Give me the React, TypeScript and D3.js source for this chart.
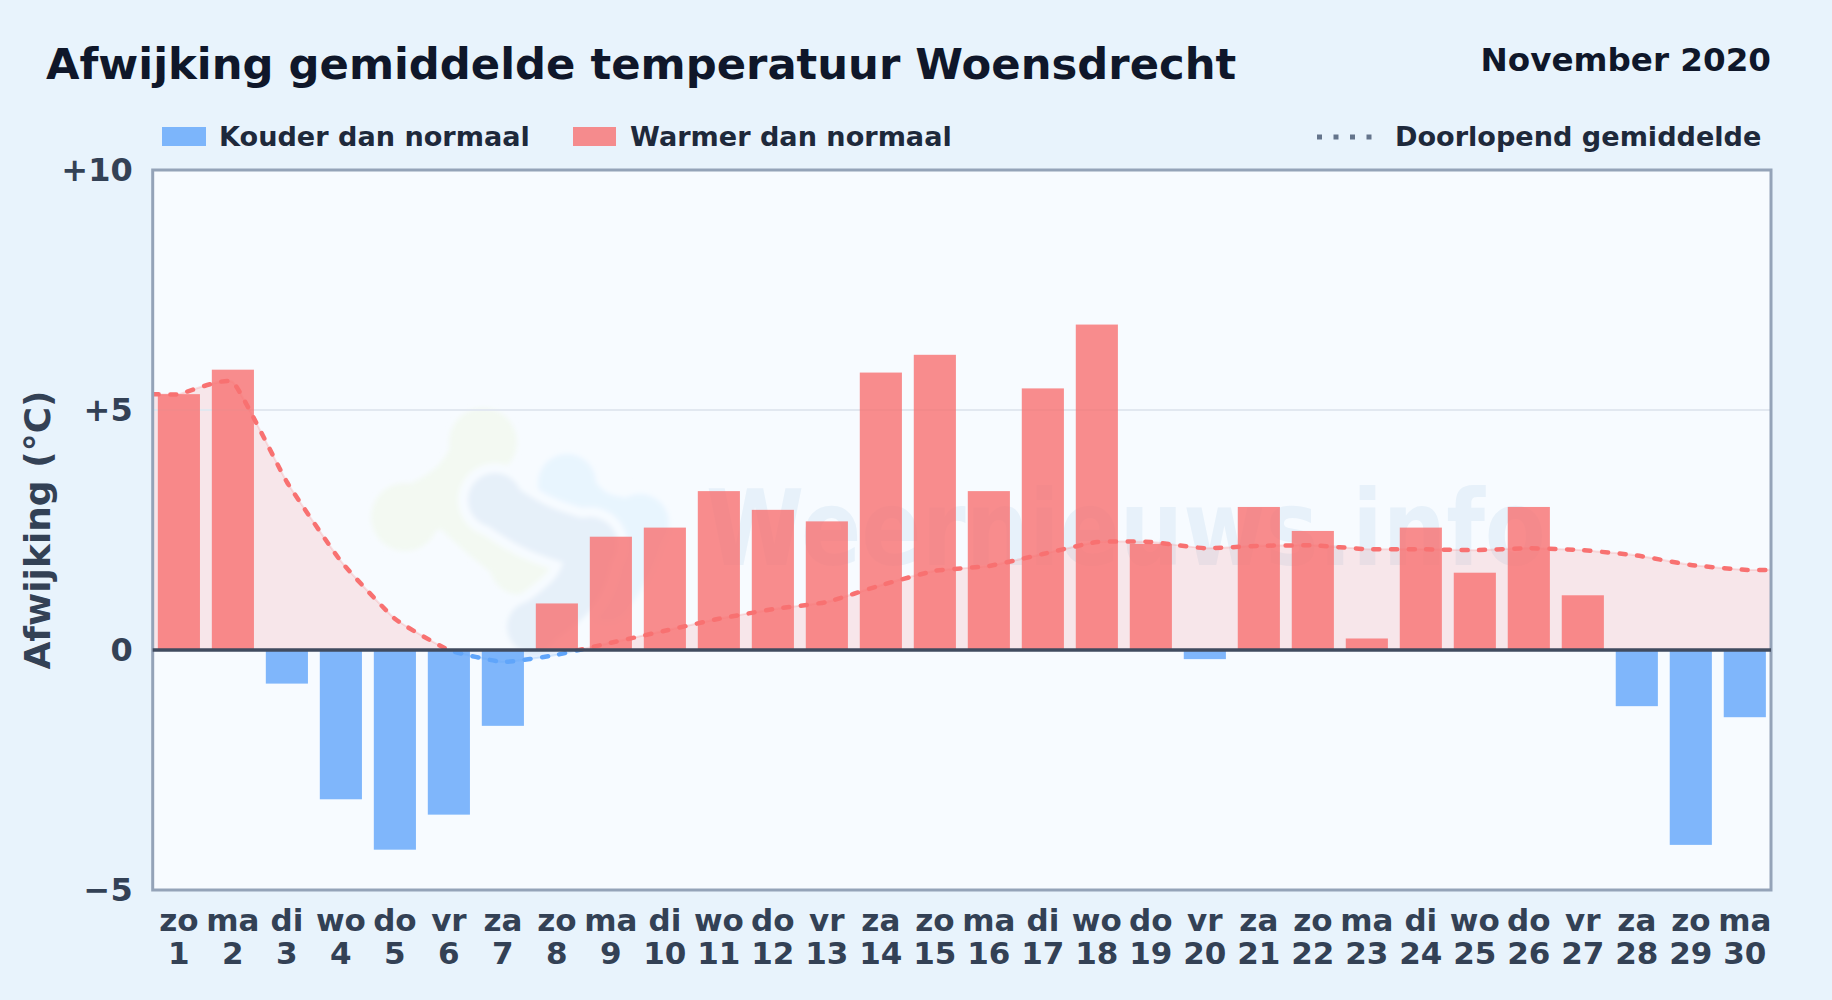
import React, { useEffect, useRef } from 'react';
import * as d3 from 'd3';

const WEEKDAYS = ['zo', 'ma', 'di', 'wo', 'do', 'vr', 'za', 'zo', 'ma', 'di', 'wo', 'do', 'vr', 'za', 'zo', 'ma', 'di', 'wo', 'do', 'vr', 'za', 'zo', 'ma', 'di', 'wo', 'do', 'vr', 'za', 'zo', 'ma'];
const DAYS = ['1', '2', '3', '4', '5', '6', '7', '8', '9', '10', '11', '12', '13', '14', '15', '16', '17', '18', '19', '20', '21', '22', '23', '24', '25', '26', '27', '28', '29', '30'];
const DEVIATION = [5.33, 5.84, -0.7, -3.11, -4.16, -3.43, -1.58, 0.97, 2.36, 2.55, 3.31, 2.92, 2.68, 5.78, 6.15, 3.31, 5.45, 6.78, 2.21, -0.19, 2.98, 2.48, 0.24, 2.55, 1.61, 2.98, 1.14, -1.17, -4.06, -1.4];
const RUNNING_MEAN = [5.33, 5.58, 3.5, 1.85, 0.65, 0.0, -0.25, -0.1, 0.15, 0.4, 0.65, 0.85, 1.0, 1.35, 1.65, 1.75, 2.0, 2.25, 2.25, 2.12, 2.17, 2.18, 2.1, 2.1, 2.08, 2.12, 2.08, 1.97, 1.77, 1.67];
const Y_TICKS = [-5, 0, 5, 10];

const FONT = '"DejaVu Sans", sans-serif';
const WIDTH = 1832;
const HEIGHT = 1000;
const margin = { top: 170, right: 61, bottom: 110, left: 152.7 };

const RED = '#f87171';
const BLUE = '#60a5fa';
const PLOT_BG = '#f7fbff';

// watermark logo, not data: spine of each blob and the lobes on it
const logoGreen = { spines: [[[483, 440], [462, 490], [403, 517]], [[450, 500], [480, 530], [523, 563]]], lobes: [[483, 442, 34], [405, 517, 34], [521, 563, 32]] };
const logoLight = { spines: [[[567, 483], [592, 520], [643, 523]], [[643, 523], [630, 565], [607, 597]]], lobes: [[567, 483, 29], [640, 523, 29], [607, 597, 24]] };
const logoDark = { spines: [[[493, 500], [535, 530], [590, 545]], [[590, 545], [585, 590], [533, 627]]], lobes: [[495, 500, 27], [590, 545, 28], [533, 627, 26]] };

export default function App() {
  const ref = useRef<SVGSVGElement>(null);

  useEffect(() => {
    if (!ref.current) return;
    const svg = d3.select(ref.current);
    svg.selectAll('*').remove();

    const defs = svg.append('defs');
    svg.append('rect').attr('width', WIDTH).attr('height', HEIGHT).attr('fill', '#e8f3fc');

    const x = d3.scaleBand().domain(DAYS).range([margin.left, WIDTH - margin.right]).padding(0.22).paddingOuter(0.095);
    const y = d3.scaleLinear().domain([-5, 10]).range([HEIGHT - margin.bottom, margin.top]);
    const [x0, x1] = x.range();
    const cx = (d: string) => x(d)! + x.bandwidth() / 2;

    svg.append('rect').attr('x', x0).attr('y', y(10)).attr('width', x1 - x0).attr('height', y(-5) - y(10)).attr('fill', PLOT_BG);

    defs.append('clipPath').attr('id', 'above').append('rect').attr('x', x0).attr('y', y(10)).attr('width', x1 - x0).attr('height', y(0) - y(10));
    defs.append('clipPath').attr('id', 'below').append('rect').attr('x', x0).attr('y', y(0)).attr('width', x1 - x0).attr('height', y(-5) - y(0));
    defs.append('filter').attr('id', 'soft').append('feGaussianBlur').attr('stdDeviation', 2.5);

    // watermark
    const wm = svg.append('g');
    const logoLayer = wm.append('g').attr('filter', 'url(#soft)');
    const blob = d3.line().curve(d3.curveBasis);
    const drawLogo = (logo: { spines: number[][][]; lobes: number[][] }, color: string, w: number, halo: number) => {
      const layer = (stroke: string, extra: number) => {
        logo.spines.forEach(p => {
          logoLayer.append('path').attr('d', blob(p as [number, number][])).attr('fill', 'none')
            .attr('stroke', stroke).attr('stroke-width', w + extra * 2).attr('stroke-linecap', 'round');
        });
        logo.lobes.forEach(l => {
          logoLayer.append('circle').attr('cx', l[0]).attr('cy', l[1]).attr('r', l[2] + extra).attr('fill', stroke);
        });
      };
      layer(PLOT_BG, halo);
      layer(color, 0);
    };
    drawLogo(logoGreen, '#f3f9f2', 54, 0);
    drawLogo(logoLight, '#e8f5fe', 48, 10);
    drawLogo(logoDark, '#e6f0f9', 48, 10);
    wm.append('text').attr('x', 706).attr('y', 565).attr('font-family', FONT).attr('font-weight', 700).attr('font-size', 105)
      .attr('textLength', 840).attr('lengthAdjust', 'spacingAndGlyphs')
      .attr('fill', '#e7f1fa').text('Weernieuws.info');

    // running mean, carried on to the plot edges
    const xs = [x0, ...DAYS.map(cx), x1];
    const ys = [RUNNING_MEAN[0], ...RUNNING_MEAN, RUNNING_MEAN[RUNNING_MEAN.length - 1]];
    const pts: [number, number][] = xs.map((v, i) => [v, ys[i]]);
    const curve = d3.curveCardinal.tension(0.6);
    const area = d3.area<[number, number]>().x(d => d[0]).y0(y(0)).y1(d => y(d[1])).curve(curve);
    const line = d3.line<[number, number]>().x(d => d[0]).y(d => y(d[1])).curve(curve);

    svg.append('path').attr('d', area(pts)).attr('fill', RED).attr('fill-opacity', 0.15).attr('clip-path', 'url(#above)');
    svg.append('path').attr('d', area(pts)).attr('fill', BLUE).attr('fill-opacity', 0.12).attr('clip-path', 'url(#below)');

    svg.append('line').attr('x1', x0).attr('x2', x1).attr('y1', y(5)).attr('y2', y(5)).attr('stroke', '#e2e8f0').attr('stroke-width', 2);

    svg.append('g').selectAll('rect').data(DAYS).enter().append('rect')
      .attr('x', d => x(d)!).attr('width', x.bandwidth())
      .attr('y', (d, i) => y(Math.max(DEVIATION[i], 0)))
      .attr('height', (d, i) => Math.abs(y(DEVIATION[i]) - y(0)))
      .attr('fill', (d, i) => (DEVIATION[i] >= 0 ? RED : BLUE)).attr('fill-opacity', 0.8);

    const drawLine = (color: string, clip: string) => {
      svg.append('path').attr('d', line(pts)).attr('fill', 'none').attr('stroke', color).attr('stroke-opacity', 0.2)
        .attr('stroke-width', 2).attr('clip-path', clip);
      svg.append('path').attr('d', line(pts)).attr('fill', 'none').attr('stroke', color).attr('stroke-width', 4.5)
        .attr('stroke-dasharray', '6 11.6').attr('stroke-linecap', 'round').attr('clip-path', clip);
    };
    drawLine(RED, 'url(#above)');
    drawLine(BLUE, 'url(#below)');

    svg.append('rect').attr('x', x0).attr('y', y(10)).attr('width', x1 - x0).attr('height', y(-5) - y(10))
      .attr('fill', 'none').attr('stroke', '#94a3b8').attr('stroke-width', 3);
    svg.append('line').attr('x1', x0).attr('x2', x1).attr('y1', y(0)).attr('y2', y(0)).attr('stroke', '#404b5f').attr('stroke-width', 3.5);

    // axes
    const yAxis = svg.append('g').attr('transform', `translate(${x0},0)`)
      .call(d3.axisLeft(y).tickValues(Y_TICKS).tickSize(0).tickPadding(20)
        .tickFormat(d => (+d > 0 ? `+${d}` : +d < 0 ? `\u2212${Math.abs(+d)}` : '0')));
    yAxis.select('.domain').remove();
    yAxis.selectAll('text').attr('font-family', FONT).attr('font-weight', 700).attr('font-size', 32).attr('fill', '#334155');

    const xAxis = svg.append('g').attr('transform', `translate(0,${y(-5)})`)
      .call(d3.axisBottom(x).tickSize(0).tickPadding(0));
    xAxis.select('.domain').remove();
    xAxis.selectAll<SVGTextElement, string>('text').each(function (d, i) {
      const t = d3.select(this).attr('y', 0).attr('dy', null).text(null)
        .attr('font-family', FONT).attr('font-weight', 700).attr('font-size', 31).attr('fill', '#334155');
      t.append('tspan').attr('x', 0).attr('y', 41).text(WEEKDAYS[i]);
      t.append('tspan').attr('x', 0).attr('y', 74).text(d);
    });

    svg.append('text').attr('transform', `translate(50,530) rotate(-90)`).attr('text-anchor', 'middle')
      .attr('font-family', FONT).attr('font-weight', 700).attr('font-size', 36).attr('fill', '#334155').text('Afwijking (°C)');

    // header
    svg.append('text').attr('x', 46).attr('y', 79).attr('font-family', FONT).attr('font-weight', 700).attr('font-size', 43.3)
      .attr('fill', '#0f172a').text('Afwijking gemiddelde temperatuur Woensdrecht');
    svg.append('text').attr('x', 1771).attr('y', 70.5).attr('text-anchor', 'end').attr('font-family', FONT).attr('font-weight', 700)
      .attr('font-size', 32.6).attr('fill', '#0f172a').text('November 2020');

    // legend
    const legendText = (tx: number, s: string) => svg.append('text').attr('x', tx).attr('y', 146).attr('font-family', FONT)
      .attr('font-weight', 700).attr('font-size', 27.1).attr('fill', '#1e293b').text(s);
    svg.append('rect').attr('x', 162).attr('y', 127).attr('width', 44).attr('height', 19).attr('fill', BLUE).attr('fill-opacity', 0.8);
    legendText(219, 'Kouder dan normaal');
    svg.append('rect').attr('x', 573).attr('y', 127).attr('width', 43).attr('height', 19).attr('fill', RED).attr('fill-opacity', 0.8);
    legendText(630, 'Warmer dan normaal');
    svg.append('line').attr('x1', 1317).attr('x2', 1374).attr('y1', 137).attr('y2', 137).attr('stroke', '#64748b')
      .attr('stroke-width', 5).attr('stroke-dasharray', '5 11.5');
    legendText(1395, 'Doorlopend gemiddelde');
  }, []);

  return <svg ref={ref} width={WIDTH} height={HEIGHT} style={{ position: 'absolute', left: 0, top: 0 }} />;
}
